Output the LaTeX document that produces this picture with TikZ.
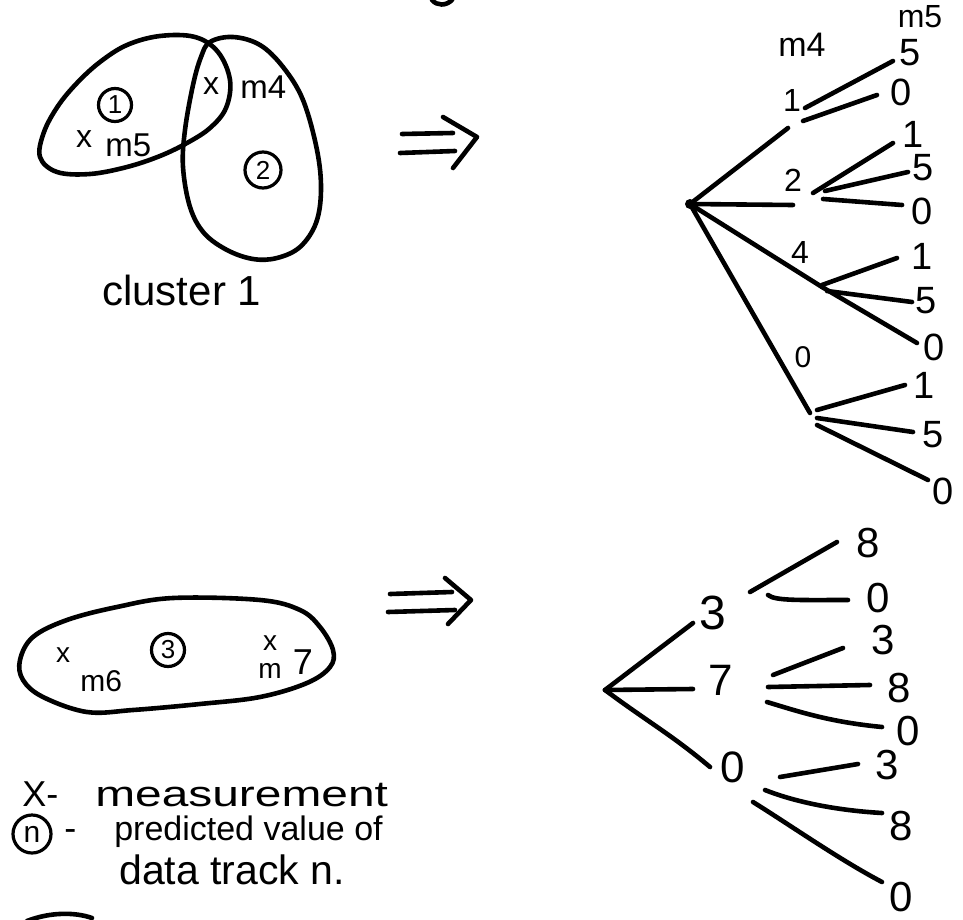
\documentclass[tikz,border=0pt]{standalone}
\usepackage{fontspec}
\setmainfont{Liberation Sans}
\usepackage{graphicx}
\begin{document}
\begin{tikzpicture}[x=1pt,y=-1pt,line width=4.6pt,line cap=round,line join=round,
  fs/.style={inner sep=0pt,font=\fontsize{#1}{#1}\selectfont},
  circnum/.style={circle,draw,line width=3.2pt,minimum size=#1,inner sep=0pt,font=\fontsize{26}{26}\selectfont},
  blob/.style={line width=4.6pt}]
\useasboundingbox (0,0) rectangle (963,920);

% ---------- cluster 1 ----------
\draw[blob] plot[smooth cycle,tension=0.6] coordinates {(100,62) (127,45) (160,36) (195,37) (218,52) (230,80) (226,108) (210,128) (187,143) (160,156) (127,167) (90,174) (57,172) (40,157) (44,132) (58,106) (77,83)};
\draw[blob] plot[smooth cycle,tension=0.6] coordinates {(210,42) (233,37) (260,45) (283,67) (303,100) (317,150) (321,190) (316,223) (300,247) (277,258) (253,259) (227,250) (204,233) (190,207) (183,167) (185,130) (193,85) (201,57)};
\node[circnum=33pt] (p1) at (115,105) {1};
\node[circnum=36pt] (p2) at (263,170) {2};
\node[fs=32] (x5) at (84,139) {x};
\node[fs=33,anchor=base west] (m5a) at (103,157) {m5};
\node[fs=32] (x4) at (211,86) {x};
\node[fs=33,anchor=base west] (m4a) at (238,99) {m4};
\node[fs=42,anchor=base west] (cl) at (100,305) {cluster 1};

% ---------- arrows ----------
\draw (402,134) -- (453,133);
\draw (400,153) -- (455,151);
\draw (443,117) -- (477,137) -- (453,168);
\draw (390,594) -- (452,592);
\draw (388,612) -- (455,610);
\draw (445,578) -- (471,600) -- (448,624);

% ---------- top tree ----------
\coordinate (R1) at (690,204);
\fill (R1) circle (5);
\coordinate (T1) at (788,128);
\coordinate (T2) at (793,205);
\coordinate (T4) at (822,287);
\coordinate (T0) at (810,413);
\draw (R1) -- (T1);
\draw (R1) -- (T2);
\draw (R1) -- (T4);
\draw (R1) -- (T0);
\node[fs=34] (hm4) at (802,45) {m4};
\node[fs=32] (hm5) at (920,17) {m5};
\node[fs=32] (n1) at (792,100) {1};
\node[fs=32] (n2) at (793,180) {2};
\node[fs=32] (n4) at (800,252) {4};
\node[fs=30] (n0) at (803,357) {0};
% branch 1
\coordinate (T1a) at (805,108); \coordinate (T1b) at (803,121);
\coordinate (E15) at (893,61); \coordinate (E10) at (877,95);
\draw (T1a) -- (E15); \draw (T1b) -- (E10);
\node[fs=38] (l15) at (910,53) {5};
\node[fs=38] (l10) at (901,92) {0};
% branch 2
\coordinate (T2a) at (813,193); \coordinate (T2b) at (825,191); \coordinate (T2c) at (823,199);
\coordinate (E21) at (893,143); \coordinate (E25) at (908,172); \coordinate (E20) at (902,205);
\draw (T2a) -- (E21); \draw (T2b) -- (E25); \draw (T2c) -- (E20);
\node[fs=38] (l21) at (913,134) {1};
\node[fs=38] (l25) at (923,168) {5};
\node[fs=38] (l20) at (922,211) {0};
% branch 4
\coordinate (T4a) at (822,285); \coordinate (T4b) at (827,291);
\coordinate (E41) at (897,258); \coordinate (E45) at (912,302); \coordinate (E40) at (917,343);
\draw (T4a) -- (E41); \draw (T4b) -- (E45); \draw (T4) -- (E40);
\node[fs=38] (l41) at (922,256) {1};
\node[fs=38] (l45) at (926,301) {5};
\node[fs=38] (l40) at (934,347) {0};
% branch 0
\coordinate (T0a) at (817,410); \coordinate (T0b) at (817,418); \coordinate (T0c) at (817,425);
\coordinate (E01) at (905,385); \coordinate (E05) at (913,432); \coordinate (E00) at (928,480);
\draw (T0a) -- (E01); \draw (T0b) -- (E05); \draw (T0c) -- (E00);
\node[fs=38] (l01) at (924,385) {1};
\node[fs=38] (l05) at (933,435) {5};
\node[fs=38] (l00) at (943,491) {0};

% ---------- cluster 2 ----------
\draw[blob] plot[smooth cycle,tension=0.6] coordinates {(20,660) (33,637) (67,620) (117,607) (173,598) (260,600) (300,610) (320,627) (333,650) (330,667) (307,683) (260,697) (200,704) (133,710) (87,712) (43,697) (23,680)};
\node[fs=28] (x6) at (63,655) {x};
\node[fs=30,anchor=base west] (m6) at (78,691) {m6};
\node[circnum=33pt] (p3) at (168,650) {3};
\node[fs=28] (x7) at (270,643) {x};
\node[fs=28] (m7m) at (270,671) {m};
\node[fs=36] (m7n) at (303,662) {7};

% ---------- bottom tree ----------
\coordinate (R2) at (605,690);
\coordinate (B3) at (693,623);
\coordinate (B7) at (693,689);
\coordinate (B0) at (710,767);
\draw (R2) -- (B3);
\draw (R2) -- (B7);
\draw (R2) .. controls (648,722) and (672,735) .. (B0);
\node[fs=48] (k3) at (713,613) {3};
\node[fs=44] (k7) at (721,680) {7};
\node[fs=44] (k0) at (733,767) {0};
% branch 3
\coordinate (B3a) at (750,592); \coordinate (B3b) at (768,595);
\coordinate (F38) at (837,542); \coordinate (F30) at (848,600);
\draw (B3a) -- (F38);
\draw (B3b) .. controls (775,601) and (800,600) .. (F30);
\node[fs=42] (g38) at (868,543) {8};
\node[fs=42] (g30) at (878,598) {0};
% branch 7
\coordinate (B7a) at (773,675); \coordinate (B7b) at (768,687); \coordinate (B7c) at (767,702);
\coordinate (F73) at (843,648); \coordinate (F78) at (870,685); \coordinate (F70) at (882,727);
\draw (B7a) -- (F73);
\draw (B7b) -- (F78);
\draw (B7c) .. controls (800,712) and (830,722) .. (F70);
\node[fs=42] (g73) at (883,640) {3};
\node[fs=42] (g78) at (899,688) {8};
\node[fs=42] (g70) at (908,731) {0};
% branch 0
\coordinate (B0a) at (780,777); \coordinate (B0b) at (765,790); \coordinate (B0c) at (753,802);
\coordinate (F03) at (858,764); \coordinate (F08) at (882,813); \coordinate (F00) at (882,882);
\draw (B0a) -- (F03);
\draw (B0b) .. controls (790,800) and (830,810) .. (F08);
\draw (B0c) .. controls (790,825) and (840,860) .. (F00);
\node[fs=42] (g03) at (887,765) {3};
\node[fs=42] (g08) at (901,826) {8};
\node[fs=42] (g00) at (901,897) {0};

% ---------- legend ----------
\node[fs=36,anchor=base west] (lx) at (20,806) {X-};
\node[fs=36,anchor=base west] (lmeas) at (93,806) {\scalebox{1.33}[1]{measurement}};
\node[circle,draw,line width=3.2pt,minimum size=38pt,inner sep=0pt,font=\fontsize{30}{30}\selectfont] (ln) at (32,834) {n};
\node[fs=36,anchor=base west] (ldash) at (62,840) {-};
\node[fs=34,anchor=base west] (lpred) at (112,840) {predicted value of};
\node[fs=41,anchor=base west] (ldata) at (117,884) {data track n.};

% cut-off strokes at the edges
\draw (27,921) .. controls (50,912) and (75,912) .. (92,918);
\draw (432,0) .. controls (437,6) and (446,6) .. (452,0);
\end{tikzpicture}
\end{document}
